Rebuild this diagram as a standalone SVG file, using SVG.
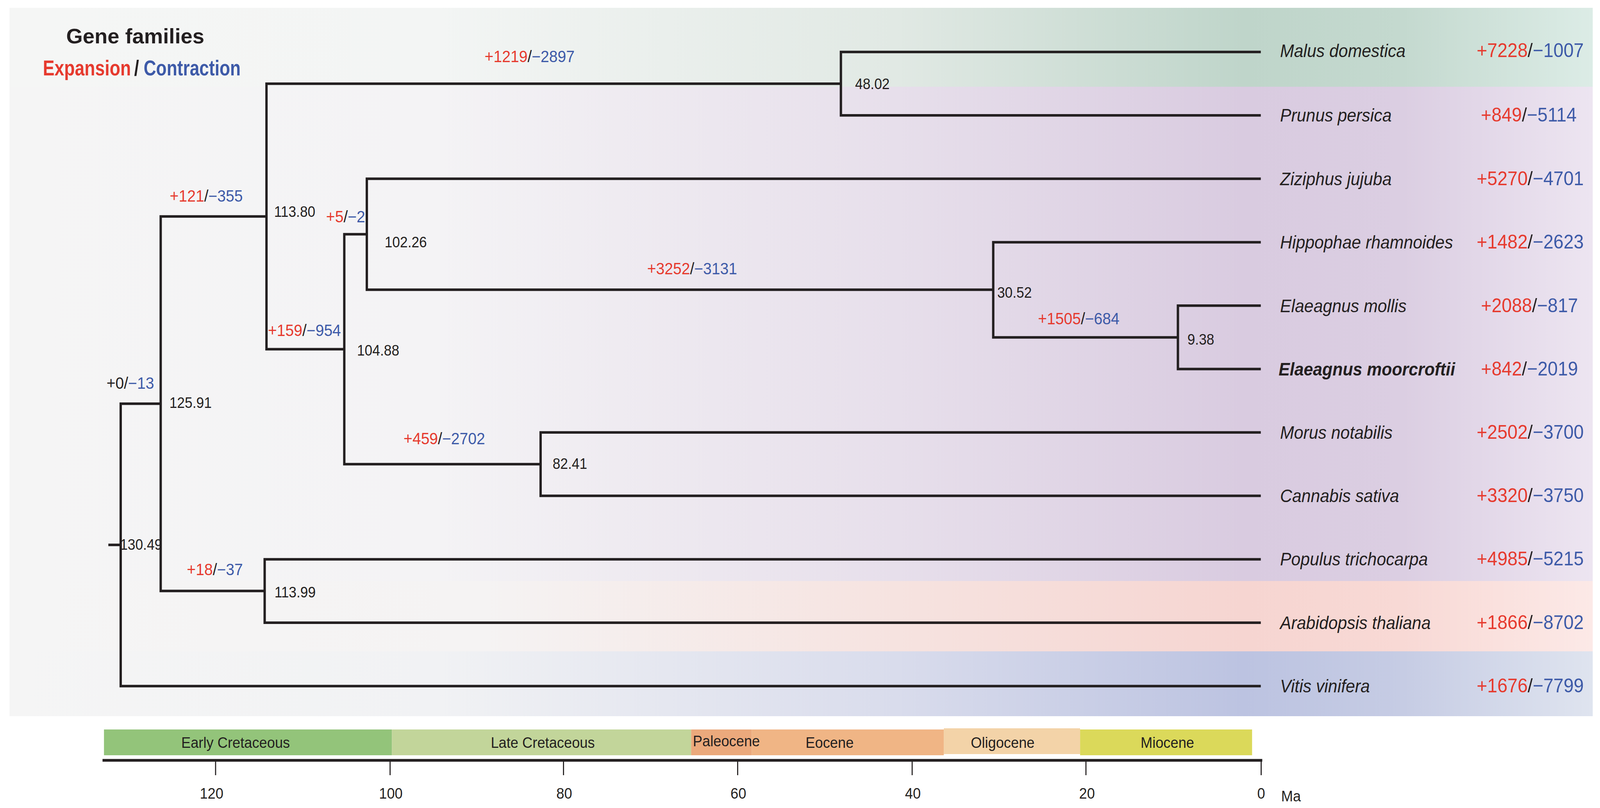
<svg xmlns="http://www.w3.org/2000/svg" width="4401" height="2068" viewBox="0 0 4401 2068">
<defs>
<style>
text{font-family:"Liberation Sans",Arial,sans-serif;fill:#231f20}
.sp{font-size:46px;font-style:italic}
.num{font-size:50px;text-anchor:middle}
.age{font-size:38px}
.br{font-size:42px}
.r{fill:#e63a2e}
.b{fill:#3d5aa8}
.k{fill:#231f20}
.edge{fill:none;stroke:#231f20;stroke-width:6.5;stroke-linejoin:miter;stroke-linecap:butt}
.era{font-size:39px;text-anchor:middle}
.tick{stroke:#231f20;stroke-width:3}
.tl{font-size:39px;text-anchor:middle}
.lg{font-size:56px;font-weight:bold}
</style>
<linearGradient id="gGreen" gradientUnits="userSpaceOnUse" x1="26" y1="0" x2="4381" y2="0">
<stop offset="0" stop-color="#f5f6f5"/>
<stop offset="0.27" stop-color="#f3f5f4"/>
<stop offset="0.56" stop-color="#e1e9e4"/>
<stop offset="0.78" stop-color="#bfd5ca"/>
<stop offset="0.88" stop-color="#c4d9cf"/>
<stop offset="1" stop-color="#dcece6"/>
</linearGradient>
<linearGradient id="gPurple" gradientUnits="userSpaceOnUse" x1="26" y1="0" x2="4381" y2="0">
<stop offset="0" stop-color="#f5f5f5"/>
<stop offset="0.27" stop-color="#f4f3f5"/>
<stop offset="0.56" stop-color="#e7dfeb"/>
<stop offset="0.78" stop-color="#d9cbe0"/>
<stop offset="0.88" stop-color="#dbcee2"/>
<stop offset="1" stop-color="#ede5f1"/>
</linearGradient>
<linearGradient id="gPink" gradientUnits="userSpaceOnUse" x1="26" y1="0" x2="4381" y2="0">
<stop offset="0" stop-color="#f5f5f5"/>
<stop offset="0.3" stop-color="#f5f3f3"/>
<stop offset="0.56" stop-color="#f6e3e0"/>
<stop offset="0.78" stop-color="#f6d5d1"/>
<stop offset="0.88" stop-color="#f8d9d5"/>
<stop offset="1" stop-color="#fce9e7"/>
</linearGradient>
<linearGradient id="gBlue" gradientUnits="userSpaceOnUse" x1="26" y1="0" x2="4381" y2="0">
<stop offset="0" stop-color="#f5f5f5"/>
<stop offset="0.27" stop-color="#f1f2f4"/>
<stop offset="0.56" stop-color="#d9dcec"/>
<stop offset="0.78" stop-color="#bcc3e1"/>
<stop offset="0.88" stop-color="#c6cce4"/>
<stop offset="1" stop-color="#dfe4ef"/>
</linearGradient>
</defs>
<rect width="4401" height="2068" fill="#ffffff"/>
<g id="figure" transform="scale(0.9307 1)">
<g id="background">
<rect x="26" y="20" width="4355" height="202" fill="url(#gGreen)"/>
<rect x="26" y="222" width="4355" height="1265" fill="url(#gPurple)"/>
<rect x="26" y="1487" width="4355" height="180" fill="url(#gPink)"/>
<rect x="26" y="1667" width="4355" height="166" fill="url(#gBlue)"/>
</g>
<g id="legend">
<text x="182" y="111" font-size="54" font-weight="bold" textLength="380" lengthAdjust="spacingAndGlyphs">Gene families</text>
<text class="lg r" transform="translate(118,193) scale(0.855,1)">Expansion</text>
<text class="lg k" transform="translate(369,193) scale(0.855,1)">/</text>
<text class="lg b" transform="translate(395,193) scale(0.85,1)">Contraction</text>
</g>
<g id="connectors">
<path class="edge" d="M298 1394.6 H332"/>
<path class="edge" d="M442 1033.3 H332 V1756 H3468"/>
<path class="edge" d="M733 554 H442 V1512.6 H728"/>
<path class="edge" d="M2313 214.2 H733 V893.8 H947"/>
<path class="edge" d="M3468 133 H2313 V295.3 H3468"/>
<path class="edge" d="M1009 599.6 H947 V1188 H1487"/>
<path class="edge" d="M3468 457.6 H1009 V741.6 H2732"/>
<path class="edge" d="M3468 619.9 H2732 V863.4 H3240"/>
<path class="edge" d="M3468 782.2 H3240 V944.5 H3468"/>
<path class="edge" d="M3468 1106.8 H1487 V1269.1 H3468"/>
<path class="edge" d="M3468 1431.4 H728 V1593.7 H3468"/>
</g>
<g id="branch-labels" class="br">
<text x="293" y="995"><tspan class="k">+0/</tspan><tspan class="b">−13</tspan></text>
<text x="467" y="516"><tspan class="r">+121</tspan><tspan class="k">/</tspan><tspan class="b">−355</tspan></text>
<text x="514" y="1472"><tspan class="r">+18</tspan><tspan class="k">/</tspan><tspan class="b">−37</tspan></text>
<text x="737" y="860"><tspan class="r">+159</tspan><tspan class="k">/</tspan><tspan class="b">−954</tspan></text>
<text x="897" y="569"><tspan class="r">+5</tspan><tspan class="k">/</tspan><tspan class="b">−2</tspan></text>
<text x="1333" y="159"><tspan class="r">+1219</tspan><tspan class="k">/</tspan><tspan class="b">−2897</tspan></text>
<text x="1780" y="702"><tspan class="r">+3252</tspan><tspan class="k">/</tspan><tspan class="b">−3131</tspan></text>
<text x="1110" y="1137"><tspan class="r">+459</tspan><tspan class="k">/</tspan><tspan class="b">−2702</tspan></text>
<text x="2855" y="830"><tspan class="r">+1505</tspan><tspan class="k">/</tspan><tspan class="b">−684</tspan></text>
</g>
<g id="node-130.49"><text class="age" x="330" y="1407">130.49</text></g>
<g id="node-125.91"><text class="age" x="466" y="1044">125.91</text></g>
<g id="node-113.99"><text class="age" x="755" y="1529">113.99</text></g>
<g id="node-113.80"><text class="age" x="754" y="555">113.80</text></g>
<g id="node-104.88"><text class="age" x="982" y="910">104.88</text></g>
<g id="node-102.26"><text class="age" x="1058" y="633">102.26</text></g>
<g id="node-82.41"><text class="age" x="1520" y="1200">82.41</text></g>
<g id="node-48.02"><text class="age" x="2352" y="228">48.02</text></g>
<g id="node-30.52"><text class="age" x="2743" y="762">30.52</text></g>
<g id="node-9.38"><text class="age" x="3266" y="882">9.38</text></g>
<g id="tip-malus"><text class="sp" x="3521" y="146">Malus domestica</text><text class="num" x="4209" y="146"><tspan class="r">+7228</tspan><tspan class="k">/</tspan><tspan class="b">−1007</tspan></text></g>
<g id="tip-prunus"><text class="sp" x="3521" y="311">Prunus persica</text><text class="num" x="4205" y="311"><tspan class="r">+849</tspan><tspan class="k">/</tspan><tspan class="b">−5114</tspan></text></g>
<g id="tip-ziziphus"><text class="sp" x="3521" y="474">Ziziphus jujuba</text><text class="num" x="4209" y="474"><tspan class="r">+5270</tspan><tspan class="k">/</tspan><tspan class="b">−4701</tspan></text></g>
<g id="tip-hippophae"><text class="sp" x="3521" y="636">Hippophae rhamnoides</text><text class="num" x="4209" y="636"><tspan class="r">+1482</tspan><tspan class="k">/</tspan><tspan class="b">−2623</tspan></text></g>
<g id="tip-emollis"><text class="sp" x="3521" y="799">Elaeagnus mollis</text><text class="num" x="4207" y="799"><tspan class="r">+2088</tspan><tspan class="k">/</tspan><tspan class="b">−817</tspan></text></g>
<g id="tip-emoorcroftii"><text class="sp" x="3517" y="961" font-weight="bold">Elaeagnus moorcroftii</text><text class="num" x="4207" y="961"><tspan class="r">+842</tspan><tspan class="k">/</tspan><tspan class="b">−2019</tspan></text></g>
<g id="tip-morus"><text class="sp" x="3521" y="1123">Morus notabilis</text><text class="num" x="4209" y="1123"><tspan class="r">+2502</tspan><tspan class="k">/</tspan><tspan class="b">−3700</tspan></text></g>
<g id="tip-cannabis"><text class="sp" x="3521" y="1285">Cannabis sativa</text><text class="num" x="4209" y="1285"><tspan class="r">+3320</tspan><tspan class="k">/</tspan><tspan class="b">−3750</tspan></text></g>
<g id="tip-populus"><text class="sp" x="3521" y="1447">Populus trichocarpa</text><text class="num" x="4209" y="1447"><tspan class="r">+4985</tspan><tspan class="k">/</tspan><tspan class="b">−5215</tspan></text></g>
<g id="tip-arabidopsis"><text class="sp" x="3521" y="1610">Arabidopsis thaliana</text><text class="num" x="4209" y="1610"><tspan class="r">+1866</tspan><tspan class="k">/</tspan><tspan class="b">−8702</tspan></text></g>
<g id="tip-vitis"><text class="sp" x="3521" y="1772">Vitis vinifera</text><text class="num" x="4209" y="1772"><tspan class="r">+1676</tspan><tspan class="k">/</tspan><tspan class="b">−7799</tspan></text></g>
<g id="timescale">
<rect x="286" y="1867" width="792" height="66" fill="#93c47a"/>
<rect x="1078" y="1867" width="823" height="66" fill="#c2d59a"/>
<rect x="1901" y="1867" width="167" height="66" fill="#eba97c"/>
<rect x="2068" y="1867" width="528" height="66" fill="#f0b585"/>
<rect x="2596" y="1864" width="375" height="66" fill="#f3d3a8"/>
<rect x="2971" y="1867" width="473" height="66" fill="#dbd95a"/>
<text class="era" x="648" y="1914">Early Cretaceous</text>
<text class="era" x="1493" y="1914">Late Cretaceous</text>
<text class="era" x="1998" y="1910">Paleocene</text>
<text class="era" x="2282" y="1914">Eocene</text>
<text class="era" x="2758" y="1914">Oligocene</text>
<text class="era" x="3211" y="1914">Miocene</text>
<line x1="282" y1="1946" x2="3472" y2="1946" stroke="#231f20" stroke-width="7"/>
<line class="tick" x1="593" y1="1946" x2="593" y2="1984"/>
<line class="tick" x1="1073" y1="1946" x2="1073" y2="1984"/>
<line class="tick" x1="1550" y1="1946" x2="1550" y2="1984"/>
<line class="tick" x1="2029" y1="1946" x2="2029" y2="1984"/>
<line class="tick" x1="2509" y1="1946" x2="2509" y2="1984"/>
<line class="tick" x1="2987" y1="1946" x2="2987" y2="1984"/>
<line class="tick" x1="3469" y1="1946" x2="3469" y2="1984"/>
<text class="tl" x="582" y="2044">120</text>
<text class="tl" x="1075" y="2044">100</text>
<text class="tl" x="1552" y="2044">80</text>
<text class="tl" x="2031" y="2044">60</text>
<text class="tl" x="2511" y="2044">40</text>
<text class="tl" x="2990" y="2044">20</text>
<text class="tl" x="3469" y="2044">0</text>
<text x="3524" y="2051" font-size="39">Ma</text>
</g>
</g>
</svg>
